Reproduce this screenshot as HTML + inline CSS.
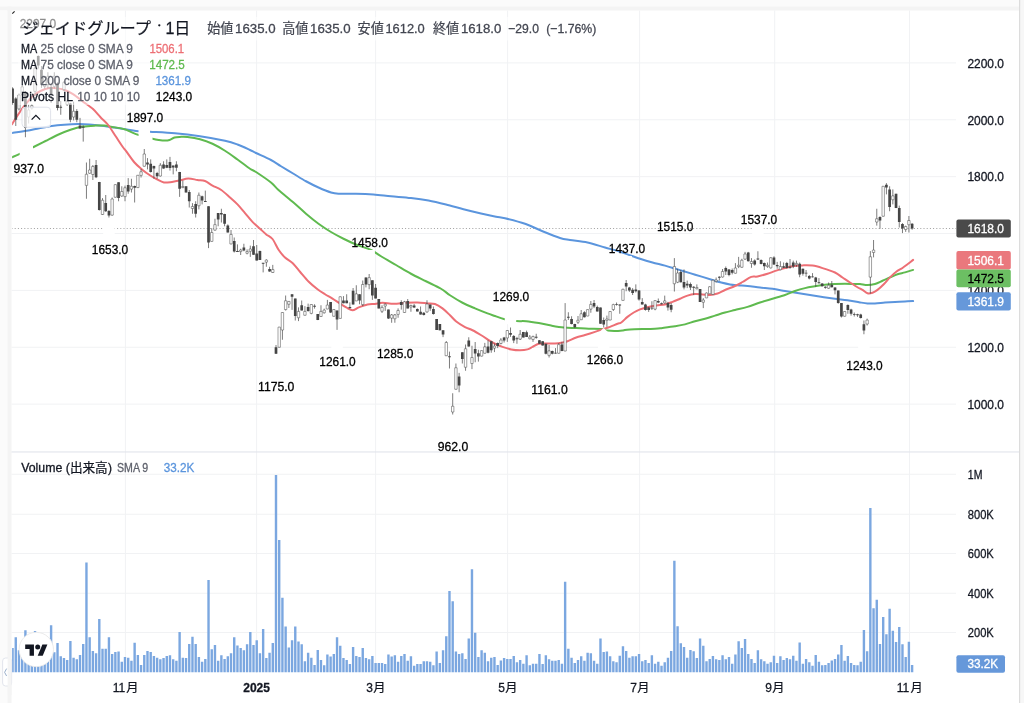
<!DOCTYPE html>
<html><head><meta charset="utf-8"><title>chart</title>
<style>
html,body{margin:0;padding:0;background:#fff;}
body{width:1024px;height:703px;overflow:hidden;font-family:"Liberation Sans", sans-serif;}
svg{display:block;font-family:"Liberation Sans", sans-serif;will-change:transform;}
</style></head><body>
<svg width="1024" height="703" viewBox="0 0 1024 703">
<rect x="0" y="0" width="1024" height="703" fill="#ffffff"/>
<rect x="0" y="0" width="1024" height="6.5" fill="#fbfbfb"/>
<rect x="0" y="6.5" width="1020" height="4" fill="#f4f4f4"/>
<rect x="0" y="10.5" width="7.5" height="693" fill="#fbfbfb"/>
<rect x="7.5" y="6.5" width="4" height="697" fill="#f4f4f4"/>
<rect x="1019" y="0" width="1.5" height="703" fill="#dcdcdc"/>
<rect x="1020.5" y="0" width="3.5" height="703" fill="#f7f7f7"/>
<rect x="124.90" y="10.5" width="1" height="662.5" fill="#f1f2f4"/>
<rect x="256.10" y="10.5" width="1" height="662.5" fill="#f1f2f4"/>
<rect x="375.10" y="10.5" width="1" height="662.5" fill="#f1f2f4"/>
<rect x="507.10" y="10.5" width="1" height="662.5" fill="#f1f2f4"/>
<rect x="639.10" y="10.5" width="1" height="662.5" fill="#f1f2f4"/>
<rect x="774.20" y="10.5" width="1" height="662.5" fill="#f1f2f4"/>
<rect x="909.00" y="10.5" width="1" height="662.5" fill="#f1f2f4"/>
<rect x="11.5" y="62.40" width="944.5" height="1" fill="#f1f2f4"/>
<rect x="11.5" y="119.27" width="944.5" height="1" fill="#f1f2f4"/>
<rect x="11.5" y="176.14" width="944.5" height="1" fill="#f1f2f4"/>
<rect x="11.5" y="233.01" width="944.5" height="1" fill="#f1f2f4"/>
<rect x="11.5" y="289.88" width="944.5" height="1" fill="#f1f2f4"/>
<rect x="11.5" y="346.75" width="944.5" height="1" fill="#f1f2f4"/>
<rect x="11.5" y="403.62" width="944.5" height="1" fill="#f1f2f4"/>
<rect x="11.5" y="473.75" width="944.5" height="1" fill="#f1f2f4"/>
<rect x="11.5" y="513.75" width="944.5" height="1" fill="#f1f2f4"/>
<rect x="11.5" y="553.00" width="944.5" height="1" fill="#f1f2f4"/>
<rect x="11.5" y="592.75" width="944.5" height="1" fill="#f1f2f4"/>
<rect x="11.5" y="632.00" width="944.5" height="1" fill="#f1f2f4"/>
<rect x="11.5" y="451.4" width="1007.5" height="1.1" fill="#e1e4ec"/>
<clipPath id="cp"><rect x="12.1" y="10.5" width="944.5" height="662.5"/></clipPath>
<g clip-path="url(#cp)">
<path d="M11.36,672.2v-24.10h2.4v24.10zM14.57,672.2v-35.00h2.4v35.00zM17.78,672.2v-21.90h2.4v21.90zM20.99,672.2v-20.00h2.4v20.00zM24.21,672.2v-42.00h2.4v42.00zM27.42,672.2v-21.00h2.4v21.00zM30.63,672.2v-19.00h2.4v19.00zM33.84,672.2v-41.25h2.4v41.25zM37.06,672.2v-20.00h2.4v20.00zM40.27,672.2v-18.00h2.4v18.00zM43.48,672.2v-22.00h2.4v22.00zM46.70,672.2v-24.00h2.4v24.00zM49.91,672.2v-46.90h2.4v46.90zM53.12,672.2v-20.00h2.4v20.00zM56.33,672.2v-29.10h2.4v29.10zM59.55,672.2v-16.00h2.4v16.00zM62.76,672.2v-14.10h2.4v14.10zM65.97,672.2v-12.25h2.4v12.25zM69.18,672.2v-31.25h2.4v31.25zM72.40,672.2v-14.50h2.4v14.50zM75.61,672.2v-12.90h2.4v12.90zM78.82,672.2v-17.25h2.4v17.25zM82.03,672.2v-28.25h2.4v28.25zM85.25,672.2v-109.75h2.4v109.75zM88.46,672.2v-35.00h2.4v35.00zM91.67,672.2v-21.25h2.4v21.25zM94.89,672.2v-18.90h2.4v18.90zM98.10,672.2v-53.25h2.4v53.25zM101.31,672.2v-23.50h2.4v23.50zM104.52,672.2v-23.50h2.4v23.50zM107.74,672.2v-35.00h2.4v35.00zM110.95,672.2v-18.10h2.4v18.10zM114.16,672.2v-20.10h2.4v20.10zM117.37,672.2v-20.75h2.4v20.75zM120.59,672.2v-10.40h2.4v10.40zM123.80,672.2v-15.10h2.4v15.10zM127.01,672.2v-14.50h2.4v14.50zM130.23,672.2v-11.40h2.4v11.40zM133.44,672.2v-29.40h2.4v29.40zM136.65,672.2v-17.25h2.4v17.25zM139.86,672.2v-7.25h2.4v7.25zM143.08,672.2v-17.25h2.4v17.25zM146.29,672.2v-21.25h2.4v21.25zM149.50,672.2v-20.10h2.4v20.10zM152.71,672.2v-16.25h2.4v16.25zM155.93,672.2v-14.50h2.4v14.50zM159.14,672.2v-12.90h2.4v12.90zM162.35,672.2v-14.10h2.4v14.10zM165.57,672.2v-16.25h2.4v16.25zM168.78,672.2v-17.00h2.4v17.00zM171.99,672.2v-12.90h2.4v12.90zM175.20,672.2v-11.40h2.4v11.40zM178.42,672.2v-40.10h2.4v40.10zM181.63,672.2v-14.50h2.4v14.50zM184.84,672.2v-14.10h2.4v14.10zM188.05,672.2v-28.25h2.4v28.25zM191.27,672.2v-35.40h2.4v35.40zM194.48,672.2v-28.25h2.4v28.25zM197.69,672.2v-15.10h2.4v15.10zM200.90,672.2v-10.40h2.4v10.40zM204.12,672.2v-13.10h2.4v13.10zM207.33,672.2v-92.25h2.4v92.25zM210.54,672.2v-22.90h2.4v22.90zM213.76,672.2v-27.25h2.4v27.25zM216.97,672.2v-11.40h2.4v11.40zM220.18,672.2v-17.00h2.4v17.00zM223.39,672.2v-13.10h2.4v13.10zM226.61,672.2v-16.00h2.4v16.00zM229.82,672.2v-18.90h2.4v18.90zM233.03,672.2v-35.00h2.4v35.00zM236.24,672.2v-26.60h2.4v26.60zM239.46,672.2v-24.10h2.4v24.10zM242.67,672.2v-21.90h2.4v21.90zM245.88,672.2v-27.90h2.4v27.90zM249.10,672.2v-40.10h2.4v40.10zM252.31,672.2v-27.25h2.4v27.25zM255.52,672.2v-32.00h2.4v32.00zM258.73,672.2v-18.90h2.4v18.90zM261.95,672.2v-43.10h2.4v43.10zM265.16,672.2v-14.10h2.4v14.10zM268.37,672.2v-19.40h2.4v19.40zM271.58,672.2v-29.10h2.4v29.10zM274.80,672.2v-197.25h2.4v197.25zM278.01,672.2v-132.25h2.4v132.25zM281.22,672.2v-74.40h2.4v74.40zM284.44,672.2v-45.75h2.4v45.75zM287.65,672.2v-24.75h2.4v24.75zM290.86,672.2v-32.00h2.4v32.00zM294.07,672.2v-45.75h2.4v45.75zM297.29,672.2v-30.75h2.4v30.75zM300.50,672.2v-27.90h2.4v27.90zM303.71,672.2v-11.00h2.4v11.00zM306.92,672.2v-19.40h2.4v19.40zM310.14,672.2v-14.50h2.4v14.50zM313.35,672.2v-7.25h2.4v7.25zM316.56,672.2v-22.25h2.4v22.25zM319.77,672.2v-12.25h2.4v12.25zM322.99,672.2v-7.00h2.4v7.00zM326.20,672.2v-17.60h2.4v17.60zM329.41,672.2v-15.75h2.4v15.75zM332.63,672.2v-18.10h2.4v18.10zM335.84,672.2v-35.00h2.4v35.00zM339.05,672.2v-26.40h2.4v26.40zM342.26,672.2v-14.10h2.4v14.10zM345.48,672.2v-12.25h2.4v12.25zM348.69,672.2v-8.10h2.4v8.10zM351.90,672.2v-25.10h2.4v25.10zM355.11,672.2v-16.25h2.4v16.25zM358.33,672.2v-15.10h2.4v15.10zM361.54,672.2v-24.10h2.4v24.10zM364.75,672.2v-14.10h2.4v14.10zM367.97,672.2v-12.90h2.4v12.90zM371.18,672.2v-16.25h2.4v16.25zM374.39,672.2v-9.10h2.4v9.10zM377.60,672.2v-9.10h2.4v9.10zM380.82,672.2v-9.10h2.4v9.10zM384.03,672.2v-8.10h2.4v8.10zM387.24,672.2v-17.60h2.4v17.60zM390.45,672.2v-15.75h2.4v15.75zM393.67,672.2v-17.00h2.4v17.00zM396.88,672.2v-10.40h2.4v10.40zM400.09,672.2v-16.25h2.4v16.25zM403.30,672.2v-18.10h2.4v18.10zM406.52,672.2v-11.40h2.4v11.40zM409.73,672.2v-16.00h2.4v16.00zM412.94,672.2v-6.40h2.4v6.40zM416.16,672.2v-8.10h2.4v8.10zM419.37,672.2v-8.10h2.4v8.10zM422.58,672.2v-11.00h2.4v11.00zM425.79,672.2v-11.00h2.4v11.00zM429.01,672.2v-10.40h2.4v10.40zM432.22,672.2v-7.00h2.4v7.00zM435.43,672.2v-20.60h2.4v20.60zM438.64,672.2v-9.10h2.4v9.10zM441.86,672.2v-21.90h2.4v21.90zM445.07,672.2v-36.00h2.4v36.00zM448.28,672.2v-81.25h2.4v81.25zM451.50,672.2v-71.00h2.4v71.00zM454.71,672.2v-20.60h2.4v20.60zM457.92,672.2v-18.10h2.4v18.10zM461.13,672.2v-18.90h2.4v18.90zM464.35,672.2v-13.25h2.4v13.25zM467.56,672.2v-33.75h2.4v33.75zM470.77,672.2v-103.00h2.4v103.00zM473.98,672.2v-39.50h2.4v39.50zM477.20,672.2v-15.10h2.4v15.10zM480.41,672.2v-21.90h2.4v21.90zM483.62,672.2v-19.40h2.4v19.40zM486.84,672.2v-11.00h2.4v11.00zM490.05,672.2v-14.50h2.4v14.50zM493.26,672.2v-15.10h2.4v15.10zM496.47,672.2v-7.25h2.4v7.25zM499.69,672.2v-11.60h2.4v11.60zM502.90,672.2v-14.10h2.4v14.10zM506.11,672.2v-13.25h2.4v13.25zM509.32,672.2v-13.25h2.4v13.25zM512.54,672.2v-16.25h2.4v16.25zM515.75,672.2v-10.00h2.4v10.00zM518.96,672.2v-12.25h2.4v12.25zM522.17,672.2v-8.50h2.4v8.50zM525.39,672.2v-17.00h2.4v17.00zM528.60,672.2v-7.00h2.4v7.00zM531.81,672.2v-8.50h2.4v8.50zM535.03,672.2v-8.50h2.4v8.50zM538.24,672.2v-18.10h2.4v18.10zM541.45,672.2v-8.10h2.4v8.10zM544.66,672.2v-17.00h2.4v17.00zM547.88,672.2v-12.90h2.4v12.90zM551.09,672.2v-11.40h2.4v11.40zM554.30,672.2v-11.40h2.4v11.40zM557.51,672.2v-12.25h2.4v12.25zM560.73,672.2v-8.50h2.4v8.50zM563.94,672.2v-90.50h2.4v90.50zM567.15,672.2v-23.50h2.4v23.50zM570.37,672.2v-14.50h2.4v14.50zM573.58,672.2v-9.10h2.4v9.10zM576.79,672.2v-12.25h2.4v12.25zM580.00,672.2v-16.00h2.4v16.00zM583.22,672.2v-11.40h2.4v11.40zM586.43,672.2v-19.40h2.4v19.40zM589.64,672.2v-18.90h2.4v18.90zM592.85,672.2v-11.40h2.4v11.40zM596.07,672.2v-8.50h2.4v8.50zM599.28,672.2v-33.75h2.4v33.75zM602.49,672.2v-20.10h2.4v20.10zM605.70,672.2v-20.60h2.4v20.60zM608.92,672.2v-16.00h2.4v16.00zM612.13,672.2v-11.00h2.4v11.00zM615.34,672.2v-10.00h2.4v10.00zM618.56,672.2v-16.40h2.4v16.40zM621.77,672.2v-26.00h2.4v26.00zM624.98,672.2v-21.25h2.4v21.25zM628.19,672.2v-14.50h2.4v14.50zM631.41,672.2v-16.00h2.4v16.00zM634.62,672.2v-16.00h2.4v16.00zM637.83,672.2v-18.10h2.4v18.10zM641.04,672.2v-11.00h2.4v11.00zM644.26,672.2v-12.25h2.4v12.25zM647.47,672.2v-9.10h2.4v9.10zM650.68,672.2v-17.00h2.4v17.00zM653.90,672.2v-8.50h2.4v8.50zM657.11,672.2v-10.40h2.4v10.40zM660.32,672.2v-6.40h2.4v6.40zM663.53,672.2v-10.00h2.4v10.00zM666.75,672.2v-14.50h2.4v14.50zM669.96,672.2v-21.25h2.4v21.25zM673.17,672.2v-111.50h2.4v111.50zM676.38,672.2v-46.00h2.4v46.00zM679.60,672.2v-28.90h2.4v28.90zM682.81,672.2v-25.10h2.4v25.10zM686.02,672.2v-14.50h2.4v14.50zM689.24,672.2v-22.25h2.4v22.25zM692.45,672.2v-21.00h2.4v21.00zM695.66,672.2v-14.10h2.4v14.10zM698.87,672.2v-33.75h2.4v33.75zM702.09,672.2v-26.40h2.4v26.40zM705.30,672.2v-11.00h2.4v11.00zM708.51,672.2v-13.25h2.4v13.25zM711.72,672.2v-16.25h2.4v16.25zM714.94,672.2v-12.90h2.4v12.90zM718.15,672.2v-12.25h2.4v12.25zM721.36,672.2v-17.00h2.4v17.00zM724.57,672.2v-12.90h2.4v12.90zM727.79,672.2v-15.10h2.4v15.10zM731.00,672.2v-8.50h2.4v8.50zM734.21,672.2v-17.60h2.4v17.60zM737.43,672.2v-31.00h2.4v31.00zM740.64,672.2v-24.10h2.4v24.10zM743.85,672.2v-33.10h2.4v33.10zM747.06,672.2v-18.10h2.4v18.10zM750.28,672.2v-13.25h2.4v13.25zM753.49,672.2v-9.10h2.4v9.10zM756.70,672.2v-21.90h2.4v21.90zM759.91,672.2v-12.90h2.4v12.90zM763.13,672.2v-11.00h2.4v11.00zM766.34,672.2v-8.50h2.4v8.50zM769.55,672.2v-10.00h2.4v10.00zM772.77,672.2v-16.40h2.4v16.40zM775.98,672.2v-9.10h2.4v9.10zM779.19,672.2v-16.00h2.4v16.00zM782.40,672.2v-12.25h2.4v12.25zM785.62,672.2v-14.10h2.4v14.10zM788.83,672.2v-12.90h2.4v12.90zM792.04,672.2v-16.40h2.4v16.40zM795.25,672.2v-11.40h2.4v11.40zM798.47,672.2v-29.75h2.4v29.75zM801.68,672.2v-8.50h2.4v8.50zM804.89,672.2v-13.25h2.4v13.25zM808.11,672.2v-10.00h2.4v10.00zM811.32,672.2v-6.40h2.4v6.40zM814.53,672.2v-17.25h2.4v17.25zM817.74,672.2v-10.40h2.4v10.40zM820.96,672.2v-7.00h2.4v7.00zM824.17,672.2v-7.25h2.4v7.25zM827.38,672.2v-9.10h2.4v9.10zM830.59,672.2v-11.60h2.4v11.60zM833.81,672.2v-13.25h2.4v13.25zM837.02,672.2v-17.60h2.4v17.60zM840.23,672.2v-27.25h2.4v27.25zM843.44,672.2v-11.40h2.4v11.40zM846.66,672.2v-16.25h2.4v16.25zM849.87,672.2v-9.10h2.4v9.10zM853.08,672.2v-7.25h2.4v7.25zM856.30,672.2v-7.00h2.4v7.00zM859.51,672.2v-10.40h2.4v10.40zM862.72,672.2v-42.25h2.4v42.25zM865.93,672.2v-21.00h2.4v21.00zM869.15,672.2v-164.25h2.4v164.25zM872.36,672.2v-63.90h2.4v63.90zM875.57,672.2v-72.50h2.4v72.50zM878.78,672.2v-28.25h2.4v28.25zM882.00,672.2v-55.10h2.4v55.10zM885.21,672.2v-37.90h2.4v37.90zM888.42,672.2v-63.50h2.4v63.50zM891.64,672.2v-41.40h2.4v41.40zM894.85,672.2v-30.10h2.4v30.10zM898.06,672.2v-45.10h2.4v45.10zM901.27,672.2v-27.90h2.4v27.90zM904.49,672.2v-15.10h2.4v15.10zM907.70,672.2v-30.40h2.4v30.40zM910.91,672.2v-7.25h2.4v7.25z" fill="#7ba7e0"/>
<line x1="11.5" y1="228.5" x2="956.0" y2="228.5" stroke="#7d7d7d" stroke-width="0.75" stroke-dasharray="1 2.2"/>
<path d="M12.10,132.90C14.44,132.56 22.41,131.49 26.75,130.75C31.09,130.01 35.25,129.01 39.25,128.25C43.25,127.49 47.75,126.56 51.75,126.00C55.75,125.44 60.05,125.05 64.25,124.75C68.45,124.45 74.00,124.14 78.00,124.10C82.00,124.06 85.45,124.24 89.25,124.50C93.05,124.76 97.75,125.27 101.75,125.75C105.75,126.23 110.25,126.90 114.25,127.50C118.25,128.10 123.29,128.94 126.75,129.50C130.21,130.06 132.18,130.64 135.90,131.00C139.62,131.36 143.74,131.39 150.00,131.75C156.26,132.11 167.00,132.53 175.00,133.25C183.00,133.97 192.00,135.05 200.00,136.25C208.00,137.45 219.00,139.43 225.00,140.75C231.00,142.07 233.50,143.02 237.50,144.50C241.50,145.98 247.04,148.64 250.00,150.00C252.96,151.36 252.64,151.40 256.00,153.00C259.36,154.60 267.00,157.88 271.00,160.00C275.00,162.12 277.40,164.05 281.00,166.25C284.60,168.45 289.50,171.35 293.50,173.75C297.50,176.15 302.00,179.05 306.00,181.25C310.00,183.45 314.50,185.70 318.50,187.50C322.50,189.30 327.80,191.50 331.00,192.50C334.20,193.50 334.50,193.55 338.50,193.75C342.50,193.95 350.40,193.63 356.00,193.75C361.60,193.87 367.90,194.10 373.50,194.50C379.10,194.90 385.00,195.69 391.00,196.25C397.00,196.81 405.00,197.32 411.00,198.00C417.00,198.68 422.90,199.46 428.50,200.50C434.10,201.54 440.40,203.10 446.00,204.50C451.60,205.90 457.90,207.81 463.50,209.25C469.10,210.69 475.80,212.30 481.00,213.50C486.20,214.70 492.16,215.99 496.00,216.75C499.84,217.51 500.36,217.13 505.00,218.25C509.64,219.37 519.00,221.67 525.00,223.75C531.00,225.83 536.90,228.97 542.50,231.25C548.10,233.53 555.60,236.60 560.00,238.00C564.40,239.40 565.60,239.28 570.00,240.00C574.40,240.72 581.90,241.30 587.50,242.50C593.10,243.70 599.80,246.02 605.00,247.50C610.20,248.98 616.40,250.65 620.00,251.75C623.60,252.85 624.30,253.28 627.50,254.40C630.70,255.52 636.00,257.45 640.00,258.75C644.00,260.05 648.50,261.40 652.50,262.50C656.50,263.60 661.00,264.50 665.00,265.60C669.00,266.70 673.50,268.20 677.50,269.40C681.50,270.60 686.00,271.90 690.00,273.10C694.00,274.30 698.90,275.80 702.50,276.90C706.10,278.00 709.50,279.10 712.50,280.00C715.50,280.90 718.45,281.80 721.25,282.50C724.05,283.20 727.40,283.96 730.00,284.40C732.60,284.84 734.70,284.99 737.50,285.25C740.30,285.51 743.90,285.64 747.50,286.00C751.10,286.36 756.00,287.06 760.00,287.50C764.00,287.94 768.50,288.19 772.50,288.75C776.50,289.31 781.00,290.30 785.00,291.00C789.00,291.70 793.50,292.46 797.50,293.10C801.50,293.74 806.00,294.39 810.00,295.00C814.00,295.61 818.50,296.30 822.50,296.90C826.50,297.50 831.00,298.21 835.00,298.75C839.00,299.29 843.50,299.67 847.50,300.25C851.50,300.83 856.80,301.90 860.00,302.40C863.20,302.90 865.10,303.24 867.50,303.40C869.90,303.56 872.20,303.53 875.00,303.40C877.80,303.27 881.80,302.82 885.00,302.60C888.20,302.38 891.80,302.18 895.00,302.00C898.20,301.82 902.10,301.64 905.00,301.50C907.90,301.36 911.80,301.16 913.10,301.10" fill="none" stroke="#5b95dd" stroke-width="2.0" stroke-linejoin="round" stroke-linecap="round"/>
<path d="M12.10,157.25C13.24,156.75 15.81,155.74 19.25,154.10C22.69,152.46 29.40,149.10 33.60,147.00C37.80,144.90 41.60,142.96 45.50,141.00C49.40,139.04 54.00,136.55 58.00,134.75C62.00,132.95 66.50,131.05 70.50,129.75C74.50,128.45 79.00,127.26 83.00,126.60C87.00,125.94 92.10,125.76 95.50,125.60C98.90,125.44 101.61,125.39 104.25,125.60C106.89,125.81 108.76,126.32 112.00,126.90C115.24,127.48 121.50,128.45 124.50,129.25C127.50,130.05 128.45,130.98 130.75,131.90C133.05,132.82 135.40,133.90 138.90,135.00C142.40,136.10 149.40,137.95 152.60,138.75C155.80,139.55 156.90,139.70 158.90,140.00C160.90,140.30 163.40,140.60 165.10,140.60C166.80,140.60 168.00,140.50 169.50,140.00C171.00,139.50 172.82,138.00 174.50,137.50C176.18,137.00 177.92,136.98 180.00,136.90C182.08,136.82 184.30,136.62 187.50,137.00C190.70,137.38 196.00,138.17 200.00,139.25C204.00,140.33 208.50,141.91 212.50,143.75C216.50,145.59 221.00,148.23 225.00,150.75C229.00,153.27 233.50,156.62 237.50,159.50C241.50,162.38 247.04,166.75 250.00,168.75C252.96,170.75 252.64,169.80 256.00,172.00C259.36,174.20 267.40,179.62 271.00,182.50C274.60,185.38 274.90,186.80 278.50,190.00C282.10,193.20 289.10,198.70 293.50,202.50C297.90,206.30 302.00,210.35 306.00,213.75C310.00,217.15 314.50,220.83 318.50,223.75C322.50,226.67 327.00,229.60 331.00,232.00C335.00,234.40 339.50,236.75 343.50,238.75C347.50,240.75 351.60,242.70 356.00,244.50C360.40,246.30 367.00,248.12 371.00,250.00C375.00,251.88 377.00,253.85 381.00,256.25C385.00,258.65 391.20,262.20 396.00,265.00C400.80,267.80 406.20,271.15 411.00,273.75C415.80,276.35 421.20,278.85 426.00,281.25C430.80,283.65 437.16,286.51 441.00,288.75C444.84,290.99 446.56,293.01 450.00,295.25C453.44,297.49 458.50,300.65 462.50,302.75C466.50,304.85 471.00,306.70 475.00,308.40C479.00,310.10 484.30,312.18 487.50,313.40C490.70,314.62 492.40,315.10 495.00,316.00C497.60,316.90 500.35,318.20 503.75,319.00C507.15,319.80 512.65,320.64 516.25,321.00C519.85,321.36 522.65,320.91 526.25,321.25C529.85,321.59 534.75,322.40 538.75,323.10C542.75,323.80 547.25,324.90 551.25,325.60C555.25,326.30 559.75,327.10 563.75,327.50C567.75,327.90 572.25,327.90 576.25,328.10C580.25,328.30 584.75,328.59 588.75,328.75C592.75,328.91 598.25,328.80 601.25,329.10C604.25,329.40 605.30,330.30 607.50,330.60C609.70,330.90 612.52,331.03 615.00,331.00C617.48,330.97 620.60,330.64 623.00,330.40C625.40,330.16 624.88,329.76 630.00,329.50C635.12,329.24 649.80,329.01 655.00,328.75C660.20,328.49 659.30,328.30 662.50,327.90C665.70,327.50 671.40,326.81 675.00,326.25C678.60,325.69 681.80,325.20 685.00,324.40C688.20,323.60 691.80,322.15 695.00,321.25C698.20,320.35 701.80,319.65 705.00,318.75C708.20,317.85 711.80,316.60 715.00,315.60C718.20,314.60 721.80,313.40 725.00,312.50C728.20,311.60 731.40,310.90 735.00,310.00C738.60,309.10 743.50,308.10 747.50,306.90C751.50,305.70 756.00,303.80 760.00,302.50C764.00,301.20 768.50,299.95 772.50,298.75C776.50,297.55 781.40,296.24 785.00,295.00C788.60,293.76 791.80,292.10 795.00,291.00C798.20,289.90 801.80,288.86 805.00,288.10C808.20,287.34 811.80,286.79 815.00,286.25C818.20,285.71 821.80,285.11 825.00,284.75C828.20,284.39 831.80,284.16 835.00,284.00C838.20,283.84 841.80,283.75 845.00,283.75C848.20,283.75 852.60,283.96 855.00,284.00C857.40,284.04 858.00,283.82 860.00,284.00C862.00,284.18 865.10,285.10 867.50,285.10C869.90,285.10 872.60,284.70 875.00,284.00C877.40,283.30 880.10,281.81 882.50,280.75C884.90,279.69 887.60,278.44 890.00,277.40C892.40,276.36 895.10,275.05 897.50,274.25C899.90,273.45 902.50,273.10 905.00,272.40C907.50,271.70 911.80,270.30 913.10,269.90" fill="none" stroke="#5fba4f" stroke-width="2.0" stroke-linejoin="round" stroke-linecap="round"/>
<path d="M12.10,124.10C13.44,122.00 18.16,114.39 20.50,111.00C22.84,107.61 24.75,105.30 26.75,102.90C28.75,100.50 30.80,97.90 33.00,96.00C35.20,94.10 37.90,92.30 40.50,91.00C43.10,89.70 46.45,88.30 49.25,87.90C52.05,87.50 55.60,88.20 58.00,88.50C60.40,88.80 61.85,88.85 64.25,89.75C66.65,90.65 70.00,92.20 73.00,94.10C76.00,96.00 79.80,99.20 83.00,101.60C86.20,104.00 90.20,106.60 93.00,109.10C95.80,111.60 98.10,114.75 100.50,117.25C102.90,119.75 105.60,121.75 108.00,124.75C110.40,127.75 113.10,132.40 115.50,136.00C117.90,139.60 121.36,144.91 123.00,147.25C124.64,149.59 123.91,148.16 125.75,150.60C127.59,153.04 131.90,159.49 134.50,162.50C137.10,165.51 139.60,167.40 142.00,169.40C144.40,171.40 147.10,173.40 149.50,175.00C151.90,176.60 154.70,178.20 157.00,179.40C159.30,180.60 161.50,182.10 163.90,182.50C166.30,182.90 169.50,182.20 172.00,181.90C174.50,181.60 176.90,181.14 179.50,180.60C182.10,180.06 185.37,178.60 188.25,178.50C191.13,178.40 194.82,179.60 197.50,180.00C200.18,180.40 202.60,180.10 205.00,181.00C207.40,181.90 209.90,184.16 212.50,185.60C215.10,187.04 218.45,188.10 221.25,190.00C224.05,191.90 227.40,195.20 230.00,197.50C232.60,199.80 235.10,201.90 237.50,204.40C239.90,206.90 242.60,210.30 245.00,213.10C247.40,215.90 250.10,219.40 252.50,221.90C254.90,224.40 257.80,226.75 260.00,228.75C262.20,230.75 264.25,232.76 266.25,234.40C268.25,236.04 270.50,236.50 272.50,239.00C274.50,241.50 276.75,247.04 278.75,250.00C280.75,252.96 282.80,255.42 285.00,257.50C287.20,259.58 290.10,260.72 292.50,263.00C294.90,265.28 297.40,268.75 300.00,271.75C302.60,274.75 305.95,278.95 308.75,281.75C311.55,284.55 314.90,287.25 317.50,289.25C320.10,291.25 322.60,292.75 325.00,294.25C327.40,295.75 330.10,297.10 332.50,298.60C334.90,300.10 337.80,302.19 340.00,303.60C342.20,305.01 344.25,306.34 346.25,307.40C348.25,308.46 350.50,310.25 352.50,310.25C354.50,310.25 356.35,308.32 358.75,307.40C361.15,306.48 364.90,305.06 367.50,304.50C370.10,303.94 372.60,304.18 375.00,303.90C377.40,303.62 379.50,302.77 382.50,302.75C385.50,302.73 389.95,303.75 393.75,303.75C397.55,303.75 402.45,302.95 406.25,302.75C410.05,302.55 414.10,302.40 417.50,302.50C420.90,302.60 424.70,303.16 427.50,303.40C430.30,303.64 432.60,303.20 435.00,304.00C437.40,304.80 440.10,306.60 442.50,308.40C444.90,310.20 447.80,313.15 450.00,315.25C452.20,317.35 453.85,319.60 456.25,321.50C458.65,323.40 462.40,325.70 465.00,327.10C467.60,328.50 469.90,328.95 472.50,330.25C475.10,331.55 478.45,333.55 481.25,335.25C484.05,336.95 487.80,339.54 490.00,340.90C492.20,342.26 493.00,342.79 495.00,343.75C497.00,344.71 499.90,346.00 502.50,346.90C505.10,347.80 508.45,348.86 511.25,349.40C514.05,349.94 517.40,350.25 520.00,350.25C522.60,350.25 525.50,349.94 527.50,349.40C529.50,348.86 530.70,347.80 532.50,346.90C534.30,346.00 536.35,344.29 538.75,343.75C541.15,343.21 544.90,343.54 547.50,343.50C550.10,343.46 552.60,343.66 555.00,343.50C557.40,343.34 560.50,342.86 562.50,342.50C564.50,342.14 565.30,342.05 567.50,341.25C569.70,340.45 573.45,338.50 576.25,337.50C579.05,336.50 582.00,335.90 585.00,335.00C588.00,334.10 592.00,332.86 595.00,331.90C598.00,330.94 601.35,329.80 603.75,329.00C606.15,328.20 607.80,327.74 610.00,326.90C612.20,326.06 615.70,324.45 617.50,323.75C619.30,323.05 619.65,323.60 621.25,322.50C622.85,321.40 625.50,318.50 627.50,316.90C629.50,315.30 631.75,313.70 633.75,312.50C635.75,311.30 638.00,310.20 640.00,309.40C642.00,308.60 643.65,308.11 646.25,307.50C648.85,306.89 653.25,306.10 656.25,305.60C659.25,305.10 662.40,304.99 665.00,304.40C667.60,303.81 670.10,302.80 672.50,301.90C674.90,301.00 677.60,299.76 680.00,298.75C682.40,297.74 685.10,296.34 687.50,295.60C689.90,294.86 692.60,294.29 695.00,294.10C697.40,293.91 700.10,294.26 702.50,294.40C704.90,294.54 707.60,295.14 710.00,295.00C712.40,294.86 715.10,294.30 717.50,293.50C719.90,292.70 722.20,291.20 725.00,290.00C727.80,288.80 732.20,287.28 735.00,286.00C737.80,284.72 739.90,283.46 742.50,282.00C745.10,280.54 748.85,277.78 751.25,276.90C753.65,276.02 754.90,277.00 757.50,276.50C760.10,276.00 764.50,274.69 767.50,273.75C770.50,272.81 773.45,271.50 776.25,270.60C779.05,269.70 782.20,268.84 785.00,268.10C787.80,267.36 790.95,266.43 793.75,266.00C796.55,265.57 799.50,265.46 802.50,265.40C805.50,265.34 809.30,265.17 812.50,265.60C815.70,266.03 818.90,267.00 822.50,268.10C826.10,269.20 831.80,271.00 835.00,272.50C838.20,274.00 840.10,275.90 842.50,277.50C844.90,279.10 847.60,280.94 850.00,282.50C852.40,284.06 855.50,286.07 857.50,287.25C859.50,288.43 860.90,288.94 862.50,289.90C864.10,290.86 865.90,292.79 867.50,293.25C869.10,293.71 870.90,293.29 872.50,292.75C874.10,292.21 875.70,291.26 877.50,289.90C879.30,288.54 881.75,286.25 883.75,284.25C885.75,282.25 888.00,279.40 890.00,277.40C892.00,275.40 894.25,273.25 896.25,271.75C898.25,270.25 900.70,269.20 902.50,268.00C904.30,266.80 905.80,265.55 907.50,264.25C909.20,262.95 912.20,260.60 913.10,259.90" fill="none" stroke="#ed6f75" stroke-width="2.0" stroke-linejoin="round" stroke-linecap="round"/>
<path d="M12.56,87.25V104.75M15.77,97.25V126.00M18.98,93.50V110.38M22.19,84.75V96.00M25.41,91.00V137.25M28.62,104.75V123.50M31.83,104.12V109.75M35.04,62.25V96.00M38.26,55.38V68.50M41.47,66.00V87.88M44.68,76.00V88.50M47.90,72.25V88.50M51.11,83.50V102.88M54.32,72.25V88.50M57.53,82.25V110.38M60.75,101.00V114.75M63.96,81.00V91.00M67.17,99.75V106.00M70.38,102.88V122.25M73.60,101.62V120.38M76.81,109.12V122.25M80.02,117.88V128.50M83.23,125.38V141.62M86.45,162.50V198.75M89.66,158.75V173.75M92.87,165.00V180.00M96.09,160.00V178.12M99.30,181.88V210.62M102.51,198.12V215.00M105.72,195.00V211.88M108.94,210.00V217.50M112.15,197.50V215.62M115.36,184.38V197.50M118.57,182.25V201.25M121.79,186.25V196.88M125.00,185.62V201.25M128.21,178.12V193.75M131.43,178.75V192.50M134.64,185.62V202.50M137.85,175.00V187.88M141.06,169.00V177.50M144.28,149.00V166.50M147.49,158.12V169.38M150.70,159.38V172.50M153.91,165.62V178.75M157.13,171.88V178.75M160.34,163.12V176.50M163.55,161.25V168.75M166.77,159.38V168.12M169.98,156.88V170.62M173.19,165.62V174.38M176.40,161.25V171.25M179.62,171.88V196.88M182.83,180.62V188.12M186.04,186.25V192.50M189.25,190.00V207.50M192.47,203.12V213.75M195.68,201.25V217.50M198.89,192.50V209.38M202.10,195.62V204.38M205.32,190.62V201.62M208.53,206.25V248.12M211.74,228.12V241.88M214.96,218.75V230.62M218.17,213.12V226.25M221.38,208.75V222.50M224.59,213.75V226.25M227.81,224.38V232.50M231.02,230.00V244.38M234.23,237.50V252.50M237.44,244.38V251.88M240.66,248.75V255.00M243.87,243.75V251.25M247.08,249.38V254.38M250.30,245.62V256.88M253.51,240.00V255.00M256.72,245.00V260.62M259.93,250.62V260.00M263.15,263.00V272.38M266.36,259.25V266.75M269.57,266.75V271.75M272.78,264.88V273.00M276.00,345.00V354.00M279.21,326.88V347.50M282.42,312.25V339.75M285.63,295.50V310.50M288.85,301.12V308.00M292.06,294.25V309.88M295.27,298.62V320.50M298.49,307.38V321.12M301.70,300.50V310.50M304.91,306.12V315.50M308.12,303.62V311.75M311.34,304.25V314.25M314.55,304.25V308.62M317.76,314.00V320.12M320.97,305.25V316.75M324.19,308.62V313.62M327.40,299.88V309.25M330.61,302.12V313.00M333.83,309.25V316.50M337.04,310.50V329.88M340.25,296.50V318.62M343.46,296.12V303.25M346.68,294.25V303.25M349.89,302.38V308.25M353.10,288.00V304.50M356.31,285.25V301.12M359.53,294.25V304.25M362.74,280.50V306.12M365.95,277.38V287.38M369.17,274.00V289.25M372.38,280.25V299.88M375.59,284.00V298.38M378.80,299.00V308.38M382.02,305.25V313.00M385.23,303.38V310.88M388.44,309.62V319.00M391.65,314.00V322.75M394.87,314.00V322.75M398.08,308.38V317.75M401.29,300.25V309.62M404.50,300.88V312.75M407.72,299.00V308.38M410.93,304.62V311.75M414.14,304.00V308.00M417.36,308.38V311.50M420.57,306.50V314.62M423.78,312.12V315.50M426.99,300.25V312.75M430.21,304.62V310.88M433.42,306.50V314.62M436.63,319.00V330.00M439.84,324.00V330.50M443.06,330.25V337.12M446.27,341.00V356.00M449.48,351.62V368.50M452.70,393.25V414.50M455.91,363.50V389.50M459.12,372.88V392.25M462.33,352.25V363.50M465.55,344.50V370.75M468.76,337.25V346.62M471.97,345.75V369.12M475.18,342.00V362.25M478.40,349.75V361.62M481.61,350.38V356.38M484.82,342.88V353.50M488.04,340.25V353.38M491.25,340.88V352.75M494.46,343.38V352.12M497.67,342.50V348.12M500.89,338.12V344.38M504.10,336.88V342.50M507.31,330.00V341.88M510.52,327.50V336.88M513.74,335.00V343.12M516.95,336.88V343.75M520.16,330.00V340.00M523.37,331.88V337.50M526.59,330.62V336.88M529.80,335.00V339.38M533.01,335.62V341.88M536.23,333.75V338.75M539.44,340.00V343.75M542.65,341.00V345.62M545.86,343.75V354.38M549.08,345.00V357.50M552.29,350.62V354.38M555.50,348.12V353.75M558.71,343.12V353.50M561.93,341.88V351.25M565.14,303.12V351.25M568.35,312.25V320.00M571.57,316.25V324.38M574.78,323.75V328.12M577.99,316.00V324.00M581.20,310.00V320.00M584.42,311.25V317.50M587.63,309.38V316.25M590.84,301.00V312.75M594.05,300.00V308.12M597.27,305.62V311.50M600.48,307.50V323.75M603.69,317.50V327.50M606.90,315.62V326.88M610.12,311.25V320.25M613.33,303.75V311.00M616.54,302.50V305.62M619.76,304.38V313.75M622.97,288.75V300.62M626.18,280.00V291.25M629.39,286.88V291.88M632.61,288.12V295.00M635.82,284.38V292.50M639.03,290.00V300.62M642.24,298.12V304.38M645.46,303.75V310.62M648.67,306.88V311.88M651.88,301.25V310.00M655.10,300.00V310.25M658.31,298.50V303.12M661.52,302.50V304.38M664.73,295.62V303.75M667.95,301.88V310.62M671.16,303.12V312.25M674.37,258.12V291.50M677.58,268.75V283.12M680.80,270.00V282.50M684.01,269.38V289.38M687.22,280.62V288.12M690.44,282.50V290.00M693.65,286.25V295.00M696.86,284.38V289.38M700.07,289.00V301.88M703.29,298.12V308.12M706.50,292.50V298.12M709.71,286.25V294.00M712.92,279.75V295.00M716.14,277.50V282.50M719.35,276.25V280.62M722.56,269.00V277.50M725.77,266.50V275.00M728.99,269.00V276.25M732.20,268.50V274.38M735.41,263.12V273.50M738.63,256.88V268.12M741.84,258.75V267.75M745.05,251.88V259.75M748.26,251.88V261.50M751.48,258.12V267.75M754.69,259.38V265.62M757.90,251.25V260.00M761.11,259.38V264.38M764.33,262.50V270.00M767.54,262.50V267.75M770.75,257.25V268.50M773.97,256.25V265.00M777.18,261.88V268.75M780.39,261.25V270.25M783.60,262.50V268.12M786.82,261.88V268.50M790.03,259.00V268.75M793.24,260.62V268.12M796.45,260.62V266.88M799.67,262.50V277.25M802.88,268.50V275.62M806.09,270.00V276.88M809.31,275.00V279.38M812.52,273.12V277.50M815.73,276.88V286.88M818.94,278.12V283.50M822.16,283.12V286.50M825.37,286.25V288.75M828.58,282.50V288.75M831.79,281.00V287.50M835.01,287.25V294.38M838.22,290.62V303.75M841.43,303.12V317.50M844.64,311.25V316.50M847.86,304.38V313.75M851.07,308.75V315.62M854.28,312.50V316.50M857.50,313.75V316.88M860.71,313.75V318.50M863.92,320.50V334.25M867.13,318.62V325.50M870.35,251.12V293.62M873.56,240.00V257.38M876.77,208.75V225.62M879.98,216.25V228.75M883.20,186.00V216.50M886.41,183.12V194.38M889.62,186.25V211.25M892.84,189.38V204.38M896.05,193.75V208.12M899.26,205.62V227.50M902.47,223.12V233.12M905.69,225.62V231.88M908.90,216.00V232.50M912.11,223.12V229.75" stroke="#454545" stroke-width="0.7" fill="none"/>
<path d="M17.78,95.00h2.4V108.88h-2.4zM20.99,86.88h2.4V94.50h-2.4zM27.42,110.00h2.4V117.00h-2.4zM30.63,105.62h2.4V108.25h-2.4zM33.84,68.25h2.4V91.38h-2.4zM43.48,77.50h2.4V86.38h-2.4zM46.70,76.25h2.4V84.50h-2.4zM53.12,76.25h2.4V86.38h-2.4zM62.76,82.50h2.4V89.50h-2.4zM65.97,101.25h2.4V104.50h-2.4zM72.40,111.25h2.4V117.00h-2.4zM85.25,174.25h2.4V185.38h-2.4zM88.46,170.00h2.4V173.25h-2.4zM91.67,166.50h2.4V174.50h-2.4zM101.31,200.25h2.4V214.50h-2.4zM110.95,199.00h2.4V215.12h-2.4zM114.16,184.62h2.4V197.25h-2.4zM120.59,191.50h2.4V196.00h-2.4zM123.80,187.75h2.4V196.62h-2.4zM130.23,186.25h2.4V189.12h-2.4zM136.65,175.25h2.4V187.62h-2.4zM139.86,171.75h2.4V175.38h-2.4zM143.08,154.00h2.4V166.25h-2.4zM159.14,165.25h2.4V176.00h-2.4zM181.63,186.50h2.4V187.62h-2.4zM191.27,206.50h2.4V208.50h-2.4zM197.69,195.25h2.4V205.75h-2.4zM210.54,232.50h2.4V241.38h-2.4zM213.76,224.62h2.4V230.12h-2.4zM229.82,234.38h2.4V243.88h-2.4zM239.46,250.00h2.4V251.62h-2.4zM245.88,251.50h2.4V253.25h-2.4zM249.10,249.00h2.4V251.25h-2.4zM265.16,260.12h2.4V262.12h-2.4zM271.58,269.50h2.4V272.50h-2.4zM278.01,327.12h2.4V347.25h-2.4zM281.22,312.50h2.4V330.00h-2.4zM284.44,300.75h2.4V309.62h-2.4zM287.65,301.38h2.4V304.25h-2.4zM297.29,311.38h2.4V317.75h-2.4zM303.71,311.38h2.4V315.25h-2.4zM310.14,304.50h2.4V313.38h-2.4zM319.77,311.38h2.4V316.50h-2.4zM322.99,310.12h2.4V312.75h-2.4zM326.20,305.12h2.4V309.00h-2.4zM332.63,309.50h2.4V316.25h-2.4zM339.05,296.75h2.4V318.38h-2.4zM355.11,293.88h2.4V300.88h-2.4zM361.54,284.50h2.4V304.62h-2.4zM367.97,277.62h2.4V284.62h-2.4zM380.82,307.38h2.4V311.25h-2.4zM384.03,304.25h2.4V306.00h-2.4zM390.45,314.88h2.4V318.12h-2.4zM393.67,314.88h2.4V318.75h-2.4zM396.88,310.50h2.4V314.38h-2.4zM403.30,301.75h2.4V312.50h-2.4zM409.73,305.50h2.4V306.88h-2.4zM425.79,304.00h2.4V311.88h-2.4zM445.07,342.50h2.4V355.75h-2.4zM451.50,406.25h2.4V412.00h-2.4zM454.71,367.75h2.4V389.25h-2.4zM464.35,348.75h2.4V367.25h-2.4zM470.77,357.50h2.4V363.50h-2.4zM480.41,350.62h2.4V356.12h-2.4zM483.62,346.88h2.4V353.25h-2.4zM493.26,346.12h2.4V348.12h-2.4zM499.69,340.00h2.4V343.50h-2.4zM506.11,330.50h2.4V337.88h-2.4zM518.96,334.25h2.4V339.12h-2.4zM528.60,337.12h2.4V338.75h-2.4zM531.81,336.50h2.4V339.50h-2.4zM547.88,350.88h2.4V355.38h-2.4zM557.51,344.62h2.4V353.25h-2.4zM563.94,320.00h2.4V351.00h-2.4zM576.79,320.25h2.4V322.25h-2.4zM580.00,313.75h2.4V319.75h-2.4zM586.43,309.62h2.4V316.00h-2.4zM589.64,304.38h2.4V309.12h-2.4zM605.70,319.00h2.4V320.38h-2.4zM608.92,311.50h2.4V320.00h-2.4zM612.13,304.62h2.4V309.50h-2.4zM621.77,289.25h2.4V300.38h-2.4zM653.90,300.62h2.4V309.12h-2.4zM663.53,300.88h2.4V302.88h-2.4zM673.17,266.50h2.4V283.75h-2.4zM676.38,273.00h2.4V282.25h-2.4zM695.66,287.50h2.4V288.75h-2.4zM702.09,300.00h2.4V302.25h-2.4zM705.30,293.00h2.4V297.88h-2.4zM708.51,286.75h2.4V293.75h-2.4zM711.72,280.25h2.4V294.50h-2.4zM714.94,280.00h2.4V281.62h-2.4zM721.36,271.50h2.4V277.00h-2.4zM734.21,268.00h2.4V273.25h-2.4zM737.43,265.25h2.4V266.62h-2.4zM740.64,260.25h2.4V267.25h-2.4zM743.85,254.00h2.4V259.12h-2.4zM750.28,261.50h2.4V263.50h-2.4zM766.34,265.25h2.4V266.62h-2.4zM769.55,257.75h2.4V267.88h-2.4zM779.19,266.50h2.4V269.75h-2.4zM795.25,263.38h2.4V264.75h-2.4zM827.38,285.25h2.4V288.25h-2.4zM843.44,311.50h2.4V316.25h-2.4zM865.93,320.12h2.4V324.00h-2.4zM869.15,256.75h2.4V277.12h-2.4zM872.36,250.12h2.4V252.50h-2.4zM875.57,218.75h2.4V222.00h-2.4zM882.00,186.25h2.4V216.25h-2.4zM891.64,195.88h2.4V199.75h-2.4zM904.49,226.50h2.4V229.50h-2.4zM907.70,220.50h2.4V224.75h-2.4z" fill="#fff" stroke="#454545" stroke-width="0.5"/>
<path d="M11.21,88.50h2.7V102.88h-2.7zM14.42,98.50h2.7V119.75h-2.7zM24.06,92.25h2.7V127.88h-2.7zM36.91,56.00h2.7V65.38h-2.7zM40.12,69.75h2.7V84.75h-2.7zM49.76,87.25h2.7V94.75h-2.7zM56.18,83.50h2.7V107.88h-2.7zM59.40,106.80h2.7V107.70h-2.7zM69.03,103.50h2.7V119.75h-2.7zM75.46,111.00h2.7V119.75h-2.7zM78.67,125.38h2.7V128.50h-2.7zM81.88,126.80h2.7V127.70h-2.7zM94.74,165.00h2.7V177.25h-2.7zM97.95,181.88h2.7V210.00h-2.7zM104.37,202.88h2.7V211.25h-2.7zM107.59,211.00h2.7V215.62h-2.7zM117.22,182.25h2.7V198.12h-2.7zM126.86,185.00h2.7V191.50h-2.7zM133.29,186.00h2.7V187.75h-2.7zM146.14,162.50h2.7V164.38h-2.7zM149.35,163.75h2.7V171.88h-2.7zM152.56,165.88h2.7V168.50h-2.7zM155.78,173.12h2.7V176.25h-2.7zM162.20,164.38h2.7V168.50h-2.7zM165.42,165.00h2.7V167.75h-2.7zM168.63,161.88h2.7V168.12h-2.7zM171.84,165.62h2.7V167.50h-2.7zM175.05,164.38h2.7V167.75h-2.7zM178.27,171.88h2.7V188.75h-2.7zM184.69,186.25h2.7V192.50h-2.7zM187.90,191.88h2.7V201.25h-2.7zM194.33,204.00h2.7V213.75h-2.7zM200.75,196.25h2.7V200.62h-2.7zM203.97,201.05h2.7V201.95h-2.7zM207.18,206.25h2.7V242.50h-2.7zM216.82,213.12h2.7V219.62h-2.7zM220.03,213.12h2.7V214.38h-2.7zM223.24,214.00h2.7V223.75h-2.7zM226.46,225.62h2.7V232.50h-2.7zM232.88,240.88h2.7V251.50h-2.7zM236.09,251.05h2.7V251.95h-2.7zM242.52,247.50h2.7V250.38h-2.7zM252.16,246.25h2.7V254.75h-2.7zM255.37,253.50h2.7V260.62h-2.7zM258.58,250.88h2.7V260.00h-2.7zM261.80,262.80h2.7V263.70h-2.7zM268.22,269.00h2.7V271.50h-2.7zM274.65,347.25h2.7V353.75h-2.7zM290.71,294.25h2.7V296.75h-2.7zM293.92,298.62h2.7V316.12h-2.7zM300.35,305.25h2.7V310.50h-2.7zM306.77,307.12h2.7V311.12h-2.7zM313.20,305.80h2.7V306.70h-2.7zM316.41,314.00h2.7V320.12h-2.7zM329.26,302.12h2.7V312.62h-2.7zM335.69,310.50h2.7V319.50h-2.7zM342.11,300.50h2.7V303.25h-2.7zM345.33,300.50h2.7V303.25h-2.7zM348.54,307.00h2.7V308.25h-2.7zM351.75,290.75h2.7V304.50h-2.7zM358.18,294.25h2.7V300.50h-2.7zM364.60,277.38h2.7V284.50h-2.7zM371.03,280.25h2.7V295.50h-2.7zM374.24,287.75h2.7V298.38h-2.7zM377.45,299.00h2.7V308.38h-2.7zM387.09,309.62h2.7V318.38h-2.7zM399.94,301.88h2.7V305.00h-2.7zM406.37,300.88h2.7V308.38h-2.7zM412.79,305.50h2.7V307.50h-2.7zM416.01,309.00h2.7V311.50h-2.7zM419.22,311.75h2.7V314.38h-2.7zM422.43,312.75h2.7V315.00h-2.7zM428.86,304.62h2.7V308.38h-2.7zM432.07,309.00h2.7V314.00h-2.7zM435.28,319.00h2.7V330.00h-2.7zM438.49,324.00h2.7V330.25h-2.7zM441.71,330.25h2.7V334.62h-2.7zM448.13,356.24h2.7V357.14h-2.7zM457.77,376.62h2.7V385.38h-2.7zM460.98,352.25h2.7V359.12h-2.7zM467.41,340.38h2.7V346.62h-2.7zM473.83,349.12h2.7V353.50h-2.7zM477.05,353.25h2.7V356.62h-2.7zM486.69,346.50h2.7V352.75h-2.7zM489.90,341.25h2.7V350.25h-2.7zM496.32,343.12h2.7V346.00h-2.7zM502.75,337.50h2.7V340.62h-2.7zM509.17,333.12h2.7V334.75h-2.7zM512.39,335.88h2.7V340.62h-2.7zM515.60,338.30h2.7V339.20h-2.7zM522.02,331.88h2.7V337.50h-2.7zM525.24,332.25h2.7V336.88h-2.7zM534.88,336.80h2.7V337.70h-2.7zM538.09,340.25h2.7V343.75h-2.7zM541.30,341.25h2.7V345.62h-2.7zM544.51,343.75h2.7V353.75h-2.7zM550.94,351.00h2.7V353.75h-2.7zM554.15,352.68h2.7V353.57h-2.7zM560.58,344.38h2.7V351.00h-2.7zM567.00,316.80h2.7V317.70h-2.7zM570.22,319.00h2.7V324.00h-2.7zM573.43,324.00h2.7V327.25h-2.7zM583.07,312.25h2.7V317.25h-2.7zM592.70,303.12h2.7V306.50h-2.7zM595.92,306.88h2.7V311.50h-2.7zM599.13,307.50h2.7V323.75h-2.7zM602.34,320.00h2.7V324.38h-2.7zM615.19,303.93h2.7V304.82h-2.7zM618.41,304.55h2.7V305.45h-2.7zM624.83,283.12h2.7V286.50h-2.7zM628.04,287.50h2.7V290.62h-2.7zM631.26,289.75h2.7V293.12h-2.7zM634.47,289.38h2.7V291.25h-2.7zM637.68,290.62h2.7V299.38h-2.7zM640.89,301.88h2.7V304.38h-2.7zM644.11,304.38h2.7V310.00h-2.7zM647.32,307.50h2.7V310.00h-2.7zM650.53,307.68h2.7V308.57h-2.7zM656.96,301.00h2.7V302.50h-2.7zM660.17,303.30h2.7V304.20h-2.7zM666.60,303.12h2.7V307.50h-2.7zM669.81,305.00h2.7V309.75h-2.7zM679.45,271.88h2.7V282.25h-2.7zM682.66,281.88h2.7V287.50h-2.7zM685.87,283.75h2.7V285.62h-2.7zM689.09,284.00h2.7V287.50h-2.7zM692.30,286.80h2.7V287.70h-2.7zM698.72,289.00h2.7V301.88h-2.7zM718.00,276.86h2.7V277.76h-2.7zM724.42,268.12h2.7V271.50h-2.7zM727.64,269.38h2.7V275.00h-2.7zM730.85,270.00h2.7V272.75h-2.7zM746.91,252.50h2.7V261.25h-2.7zM753.34,260.62h2.7V264.38h-2.7zM756.55,258.55h2.7V259.45h-2.7zM759.76,260.00h2.7V264.00h-2.7zM762.98,263.12h2.7V266.25h-2.7zM772.62,257.50h2.7V264.38h-2.7zM775.83,265.00h2.7V266.25h-2.7zM782.25,266.25h2.7V267.75h-2.7zM785.47,263.12h2.7V268.12h-2.7zM788.68,266.86h2.7V267.76h-2.7zM791.89,262.50h2.7V266.50h-2.7zM798.32,263.75h2.7V274.38h-2.7zM801.53,268.75h2.7V273.75h-2.7zM804.74,272.68h2.7V273.57h-2.7zM807.96,276.00h2.7V278.50h-2.7zM811.17,276.43h2.7V277.32h-2.7zM814.38,277.50h2.7V281.88h-2.7zM817.59,282.30h2.7V283.20h-2.7zM820.81,283.50h2.7V286.25h-2.7zM824.02,286.86h2.7V287.76h-2.7zM830.44,284.75h2.7V287.25h-2.7zM833.66,287.50h2.7V290.25h-2.7zM836.87,290.62h2.7V303.12h-2.7zM840.08,303.12h2.7V316.50h-2.7zM846.51,305.00h2.7V310.00h-2.7zM849.72,309.38h2.7V313.75h-2.7zM852.93,314.18h2.7V315.07h-2.7zM856.15,314.30h2.7V315.20h-2.7zM859.36,314.38h2.7V318.12h-2.7zM862.57,324.25h2.7V330.50h-2.7zM878.63,216.88h2.7V220.62h-2.7zM885.06,184.75h2.7V187.50h-2.7zM888.27,189.38h2.7V206.88h-2.7zM894.70,193.75h2.7V208.12h-2.7zM897.91,208.12h2.7V221.88h-2.7zM901.12,224.00h2.7V228.50h-2.7zM910.76,223.75h2.7V228.50h-2.7z" fill="#454545"/>
<path d="M32.51,11.30h11.5v18L38.26,34.70L32.51,29.30z" fill="#fff"/>
<path d="M19.66,161.25h11.5v-18L25.41,137.85L19.66,143.25z" fill="#fff"/>
<path d="M138.53,125.00h11.5v18L144.28,148.40L138.53,143.00z" fill="#fff"/>
<path d="M103.19,241.50h11.5v-18L108.94,218.10L103.19,223.50z" fill="#fff"/>
<path d="M363.42,250.00h11.5v18L369.17,273.40L363.42,268.00z" fill="#fff"/>
<path d="M270.25,378.00h11.5v-18L276.00,354.60L270.25,360.00z" fill="#fff"/>
<path d="M331.29,353.88h11.5v-18L337.04,330.48L331.29,335.88z" fill="#fff"/>
<path d="M389.12,346.75h11.5v-18L394.87,323.35L389.12,328.75z" fill="#fff"/>
<path d="M446.95,438.50h11.5v-18L452.70,415.10L446.95,420.50z" fill="#fff"/>
<path d="M504.77,303.50h11.5v18L510.52,326.90L504.77,321.50z" fill="#fff"/>
<path d="M543.33,381.50h11.5v-18L549.08,358.10L543.33,363.50z" fill="#fff"/>
<path d="M597.94,351.50h11.5v-18L603.69,328.10L597.94,333.50z" fill="#fff"/>
<path d="M620.43,256.00h11.5v18L626.18,279.40L620.43,274.00z" fill="#fff"/>
<path d="M668.62,234.12h11.5v18L674.37,257.52L668.62,252.12z" fill="#fff"/>
<path d="M752.15,227.25h11.5v18L757.90,250.65L752.15,245.25z" fill="#fff"/>
<path d="M858.17,358.25h11.5v-18L863.92,334.85L858.17,340.25z" fill="#fff"/>
<rect x="30" y="143.5" width="3.0" height="6.5" fill="#fff"/>
<rect x="149.5" y="135.5" width="3.0" height="5" fill="#fff"/>
<text x="19.70" y="27.75" font-size="12" fill="#000" stroke="#000" stroke-width="0.28" textLength="36.4" lengthAdjust="spacingAndGlyphs" >2297.0</text>
<text x="13.50" y="173.25" font-size="12" fill="#000" stroke="#000" stroke-width="0.28" textLength="30.5" lengthAdjust="spacingAndGlyphs" >937.0</text>
<text x="126.80" y="121.85" font-size="12" fill="#000" stroke="#000" stroke-width="0.28" textLength="36.4" lengthAdjust="spacingAndGlyphs" >1897.0</text>
<text x="91.80" y="253.85" font-size="12" fill="#000" stroke="#000" stroke-width="0.28" textLength="36.4" lengthAdjust="spacingAndGlyphs" >1653.0</text>
<text x="351.50" y="246.85" font-size="12" fill="#000" stroke="#000" stroke-width="0.28" textLength="36.4" lengthAdjust="spacingAndGlyphs" >1458.0</text>
<text x="258.00" y="390.95" font-size="12" fill="#000" stroke="#000" stroke-width="0.28" textLength="36.4" lengthAdjust="spacingAndGlyphs" >1175.0</text>
<text x="319.30" y="365.65" font-size="12" fill="#000" stroke="#000" stroke-width="0.28" textLength="36.4" lengthAdjust="spacingAndGlyphs" >1261.0</text>
<text x="377.00" y="358.35" font-size="12" fill="#000" stroke="#000" stroke-width="0.28" textLength="36.4" lengthAdjust="spacingAndGlyphs" >1285.0</text>
<text x="437.75" y="450.95" font-size="12" fill="#000" stroke="#000" stroke-width="0.28" textLength="30.5" lengthAdjust="spacingAndGlyphs" >962.0</text>
<text x="492.80" y="300.95" font-size="12" fill="#000" stroke="#000" stroke-width="0.28" textLength="36.4" lengthAdjust="spacingAndGlyphs" >1269.0</text>
<text x="531.30" y="393.95" font-size="12" fill="#000" stroke="#000" stroke-width="0.28" textLength="36.4" lengthAdjust="spacingAndGlyphs" >1161.0</text>
<text x="586.80" y="364.15" font-size="12" fill="#000" stroke="#000" stroke-width="0.28" textLength="36.4" lengthAdjust="spacingAndGlyphs" >1266.0</text>
<text x="608.80" y="253.15" font-size="12" fill="#000" stroke="#000" stroke-width="0.28" textLength="36.4" lengthAdjust="spacingAndGlyphs" >1437.0</text>
<text x="657.00" y="231.25" font-size="12" fill="#000" stroke="#000" stroke-width="0.28" textLength="36.4" lengthAdjust="spacingAndGlyphs" >1515.0</text>
<text x="740.80" y="224.15" font-size="12" fill="#000" stroke="#000" stroke-width="0.28" textLength="36.4" lengthAdjust="spacingAndGlyphs" >1537.0</text>
<text x="846.30" y="370.35" font-size="12" fill="#000" stroke="#000" stroke-width="0.28" textLength="36.4" lengthAdjust="spacingAndGlyphs" >1243.0</text>
</g>
<rect x="18" y="17" width="582" height="23.5" fill="rgba(255,255,255,0.55)"/>
<rect x="18" y="40.5" width="168" height="16.5" fill="rgba(255,255,255,0.52)"/>
<rect x="18" y="57" width="170" height="16" fill="rgba(255,255,255,0.52)"/>
<rect x="18" y="73" width="176" height="16" fill="rgba(255,255,255,0.52)"/>
<rect x="18" y="89" width="177" height="16" fill="rgba(255,255,255,0.52)"/>
<rect x="22" y="107.2" width="28.6" height="20" rx="3.5" fill="rgba(255,255,255,0.78)" stroke="#e0e3eb" stroke-width="1"/>
<path d="M31.6,119.6 L35.9,115.3 L40.2,119.6" fill="none" stroke="#131722" stroke-width="1.3"/>
<path d="M12.3,13.7 L14.6,11.4" stroke="#222" stroke-width="1.1" fill="none"/>
<text x="22.30" y="34.00" font-size="16.1" font-family="&quot;Liberation Sans&quot;, &quot;Noto Sans CJK JP&quot;, sans-serif" fill="#131722" stroke="#131722" stroke-width="0.22" textLength="128.8" lengthAdjust="spacingAndGlyphs">ジェイドグループ</text>
<circle cx="159.3" cy="25.3" r="1.15" fill="#131722"/>
<text x="165.40" y="34.00" font-size="16" fill="#131722" stroke="#131722" stroke-width="0.28" >1</text>
<text x="174.20" y="34.00" font-size="16" font-family="&quot;Liberation Sans&quot;, &quot;Noto Sans CJK JP&quot;, sans-serif" fill="#131722" stroke="#131722" stroke-width="0.22">日</text>
<text x="207.20" y="33.20" font-size="13.1" font-family="&quot;Liberation Sans&quot;, &quot;Noto Sans CJK JP&quot;, sans-serif" fill="#434651" stroke="#434651" stroke-width="0.22" textLength="26.2" lengthAdjust="spacingAndGlyphs">始値</text>
<text x="235.00" y="33.20" font-size="13" fill="#434651" stroke="#434651" stroke-width="0.28" textLength="40.6" lengthAdjust="spacingAndGlyphs" >1635.0</text>
<text x="282.20" y="33.20" font-size="13.1" font-family="&quot;Liberation Sans&quot;, &quot;Noto Sans CJK JP&quot;, sans-serif" fill="#434651" stroke="#434651" stroke-width="0.22" textLength="26.2" lengthAdjust="spacingAndGlyphs">高値</text>
<text x="310.00" y="33.20" font-size="13" fill="#434651" stroke="#434651" stroke-width="0.28" textLength="40.6" lengthAdjust="spacingAndGlyphs" >1635.0</text>
<text x="357.60" y="33.20" font-size="13.1" font-family="&quot;Liberation Sans&quot;, &quot;Noto Sans CJK JP&quot;, sans-serif" fill="#434651" stroke="#434651" stroke-width="0.22" textLength="26.2" lengthAdjust="spacingAndGlyphs">安値</text>
<text x="385.40" y="33.20" font-size="13" fill="#434651" stroke="#434651" stroke-width="0.28" textLength="39.4" lengthAdjust="spacingAndGlyphs" >1612.0</text>
<text x="433.00" y="33.20" font-size="13.1" font-family="&quot;Liberation Sans&quot;, &quot;Noto Sans CJK JP&quot;, sans-serif" fill="#434651" stroke="#434651" stroke-width="0.22" textLength="26.2" lengthAdjust="spacingAndGlyphs">終値</text>
<text x="460.90" y="33.20" font-size="13" fill="#434651" stroke="#434651" stroke-width="0.28" textLength="40.4" lengthAdjust="spacingAndGlyphs" >1618.0</text>
<text x="508.20" y="33.20" font-size="13" fill="#434651" stroke="#434651" stroke-width="0.28" textLength="30.8" lengthAdjust="spacingAndGlyphs" >−29.0</text>
<text x="546.20" y="33.20" font-size="13" fill="#434651" stroke="#434651" stroke-width="0.28" textLength="50.2" lengthAdjust="spacingAndGlyphs" >(−1.76%)</text>
<text x="21.10" y="53.00" font-size="12" fill="#131722" stroke="#131722" stroke-width="0.28" textLength="16.2" lengthAdjust="spacingAndGlyphs" >MA</text>
<text x="40.60" y="53.00" font-size="12" fill="#5d606b" stroke="#5d606b" stroke-width="0.28" textLength="92.2" lengthAdjust="spacingAndGlyphs" >25 close 0 SMA 9</text>
<text x="149.40" y="53.00" font-size="12" fill="#ed6f75" stroke="#ed6f75" stroke-width="0.28" textLength="34.8" lengthAdjust="spacingAndGlyphs" >1506.1</text>
<text x="21.10" y="68.50" font-size="12" fill="#131722" stroke="#131722" stroke-width="0.28" textLength="16.2" lengthAdjust="spacingAndGlyphs" >MA</text>
<text x="40.60" y="68.50" font-size="12" fill="#5d606b" stroke="#5d606b" stroke-width="0.28" textLength="92.2" lengthAdjust="spacingAndGlyphs" >75 close 0 SMA 9</text>
<text x="149.20" y="68.50" font-size="12" fill="#5fba4f" stroke="#5fba4f" stroke-width="0.28" textLength="35.6" lengthAdjust="spacingAndGlyphs" >1472.5</text>
<text x="21.10" y="84.70" font-size="12" fill="#131722" stroke="#131722" stroke-width="0.28" textLength="16.2" lengthAdjust="spacingAndGlyphs" >MA</text>
<text x="40.60" y="84.70" font-size="12" fill="#5d606b" stroke="#5d606b" stroke-width="0.28" textLength="98.8" lengthAdjust="spacingAndGlyphs" >200 close 0 SMA 9</text>
<text x="155.40" y="84.70" font-size="12" fill="#5b95dd" stroke="#5b95dd" stroke-width="0.28" textLength="35.6" lengthAdjust="spacingAndGlyphs" >1361.9</text>
<text x="21.10" y="100.60" font-size="12" fill="#131722" stroke="#131722" stroke-width="0.28" textLength="52.0" lengthAdjust="spacingAndGlyphs" >Pivots HL</text>
<text x="77.20" y="100.60" font-size="12" fill="#5d606b" stroke="#5d606b" stroke-width="0.28" textLength="62.8" lengthAdjust="spacingAndGlyphs" >10 10 10 10</text>
<text x="155.80" y="100.60" font-size="12" fill="#000" stroke="#000" stroke-width="0.28" textLength="36.4" lengthAdjust="spacingAndGlyphs" >1243.0</text>
<text x="21.20" y="471.60" font-size="12" fill="#131722" stroke="#131722" stroke-width="0.28" textLength="48.6" lengthAdjust="spacingAndGlyphs" >Volume (</text>
<text x="69.90" y="471.80" font-size="12.6" font-family="&quot;Liberation Sans&quot;, &quot;Noto Sans CJK JP&quot;, sans-serif" fill="#131722" stroke="#131722" stroke-width="0.22" textLength="37.8" lengthAdjust="spacingAndGlyphs">出来高</text>
<text x="107.90" y="471.60" font-size="12" fill="#131722" stroke="#131722" stroke-width="0.28" >)</text>
<text x="117.00" y="471.60" font-size="12" fill="#5d606b" stroke="#5d606b" stroke-width="0.28" textLength="31.2" lengthAdjust="spacingAndGlyphs" >SMA 9</text>
<text x="163.80" y="471.60" font-size="12" fill="#5b95dd" stroke="#5b95dd" stroke-width="0.28" textLength="30.6" lengthAdjust="spacingAndGlyphs" >33.2K</text>
<text x="967.40" y="67.70" font-size="12" fill="#131722" stroke="#131722" stroke-width="0.28" textLength="36.6" lengthAdjust="spacingAndGlyphs" >2200.0</text>
<text x="967.40" y="124.57" font-size="12" fill="#131722" stroke="#131722" stroke-width="0.28" textLength="36.6" lengthAdjust="spacingAndGlyphs" >2000.0</text>
<text x="967.40" y="181.44" font-size="12" fill="#131722" stroke="#131722" stroke-width="0.28" textLength="36.6" lengthAdjust="spacingAndGlyphs" >1800.0</text>
<text x="967.40" y="295.18" font-size="12" fill="#131722" stroke="#131722" stroke-width="0.28" textLength="36.6" lengthAdjust="spacingAndGlyphs" >1400.0</text>
<text x="967.40" y="352.05" font-size="12" fill="#131722" stroke="#131722" stroke-width="0.28" textLength="36.6" lengthAdjust="spacingAndGlyphs" >1200.0</text>
<text x="967.40" y="408.92" font-size="12" fill="#131722" stroke="#131722" stroke-width="0.28" textLength="36.6" lengthAdjust="spacingAndGlyphs" >1000.0</text>
<text x="967.80" y="478.85" font-size="12" fill="#131722" stroke="#131722" stroke-width="0.28" textLength="14.6" lengthAdjust="spacingAndGlyphs" >1M</text>
<text x="967.80" y="518.85" font-size="12" fill="#131722" stroke="#131722" stroke-width="0.28" textLength="26.0" lengthAdjust="spacingAndGlyphs" >800K</text>
<text x="967.80" y="558.10" font-size="12" fill="#131722" stroke="#131722" stroke-width="0.28" textLength="26.0" lengthAdjust="spacingAndGlyphs" >600K</text>
<text x="967.80" y="597.85" font-size="12" fill="#131722" stroke="#131722" stroke-width="0.28" textLength="26.0" lengthAdjust="spacingAndGlyphs" >400K</text>
<text x="967.80" y="637.10" font-size="12" fill="#131722" stroke="#131722" stroke-width="0.28" textLength="26.0" lengthAdjust="spacingAndGlyphs" >200K</text>
<rect x="956.4" y="219.40" width="54.40" height="18.20" rx="2" fill="#4a4a4a"/>
<text x="967.40" y="232.85" font-size="12" fill="#fff" stroke="#fff" stroke-width="0.28" textLength="36.6" lengthAdjust="spacingAndGlyphs" >1618.0</text>
<rect x="956.4" y="251.00" width="54.40" height="18.60" rx="2" fill="#ea787d"/>
<text x="967.40" y="264.65" font-size="12" fill="#fff" stroke="#fff" stroke-width="0.28" textLength="36.6" lengthAdjust="spacingAndGlyphs" >1506.1</text>
<rect x="956.4" y="269.60" width="54.40" height="17.70" rx="2" fill="#6cbf63"/>
<text x="967.40" y="282.80" font-size="12" fill="#000" stroke="#000" stroke-width="0.28" textLength="36.6" lengthAdjust="spacingAndGlyphs" >1472.5</text>
<rect x="956.4" y="292.30" width="54.40" height="18.30" rx="2" fill="#6698da"/>
<text x="967.40" y="305.80" font-size="12" fill="#fff" stroke="#fff" stroke-width="0.28" textLength="36.6" lengthAdjust="spacingAndGlyphs" >1361.9</text>
<rect x="956.4" y="655.30" width="48.60" height="17.50" rx="2" fill="#6698da"/>
<text x="967.40" y="668.40" font-size="12" fill="#fff" stroke="#fff" stroke-width="0.28" textLength="30.8" lengthAdjust="spacingAndGlyphs" >33.2K</text>
<text x="112.73" y="692.30" font-size="12" fill="#131722" stroke="#131722" stroke-width="0.28" >11</text>
<text x="126.37" y="692.20" font-size="12.2" font-family="&quot;Liberation Sans&quot;, &quot;Noto Sans CJK JP&quot;, sans-serif" fill="#131722" stroke="#131722" stroke-width="0.22">月</text>
<text x="256.60" y="692.30" font-size="12" fill="#131722" stroke="#131722" stroke-width="0.28" text-anchor="middle" font-weight="bold" >2025</text>
<text x="366.27" y="692.30" font-size="12" fill="#131722" stroke="#131722" stroke-width="0.28" >3</text>
<text x="373.24" y="692.20" font-size="12.2" font-family="&quot;Liberation Sans&quot;, &quot;Noto Sans CJK JP&quot;, sans-serif" fill="#131722" stroke="#131722" stroke-width="0.22">月</text>
<text x="498.27" y="692.30" font-size="12" fill="#131722" stroke="#131722" stroke-width="0.28" >5</text>
<text x="505.24" y="692.20" font-size="12.2" font-family="&quot;Liberation Sans&quot;, &quot;Noto Sans CJK JP&quot;, sans-serif" fill="#131722" stroke="#131722" stroke-width="0.22">月</text>
<text x="630.26" y="692.30" font-size="12" fill="#131722" stroke="#131722" stroke-width="0.28" >7</text>
<text x="637.23" y="692.20" font-size="12.2" font-family="&quot;Liberation Sans&quot;, &quot;Noto Sans CJK JP&quot;, sans-serif" fill="#131722" stroke="#131722" stroke-width="0.22">月</text>
<text x="765.37" y="692.30" font-size="12" fill="#131722" stroke="#131722" stroke-width="0.28" >9</text>
<text x="772.33" y="692.20" font-size="12.2" font-family="&quot;Liberation Sans&quot;, &quot;Noto Sans CJK JP&quot;, sans-serif" fill="#131722" stroke="#131722" stroke-width="0.22">月</text>
<text x="896.83" y="692.30" font-size="12" fill="#131722" stroke="#131722" stroke-width="0.28" >11</text>
<text x="910.47" y="692.20" font-size="12.2" font-family="&quot;Liberation Sans&quot;, &quot;Noto Sans CJK JP&quot;, sans-serif" fill="#131722" stroke="#131722" stroke-width="0.22">月</text>
<circle cx="36.3" cy="649.5" r="17.2" fill="#fff" stroke="#e6e6e6" stroke-width="0.8"/>
<g transform="translate(25.2,642.0) scale(0.625)" fill="#131722"><path d="M14 22H7V11H0V4h14v18z"/><circle cx="20" cy="8" r="4"/><path d="M28 22h-8l7.5-18h8L28 22z"/></g>
<rect x="2.6" y="658" width="9" height="28" rx="3" fill="#fff" stroke="#dfe2ea" stroke-width="0.9"/>
<rect x="7.6" y="650" width="3.9" height="45" fill="#f4f4f4"/>
<path d="M6.6,668.6 L4.6,672.3 L6.6,676" fill="none" stroke="#8fa6c4" stroke-width="0.9"/>
</svg></body></html>
